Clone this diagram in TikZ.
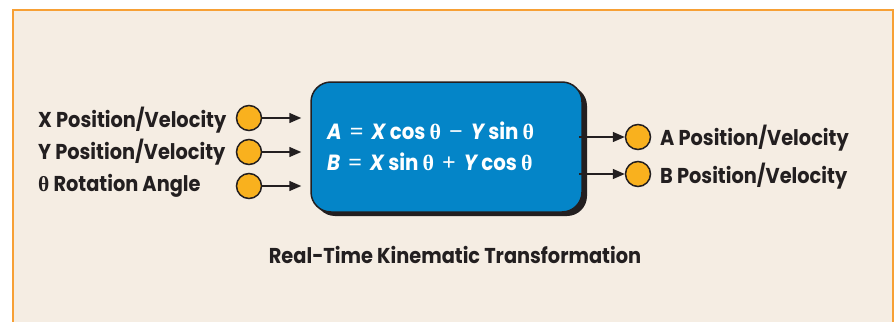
\documentclass[tikz,border=0pt]{standalone}
\usepackage{fontspec}
\setmainfont{Poppins}[FakeStretch=0.9]
\newfontfamily\thfont{Liberation Serif}
\usetikzlibrary{arrows.meta}
\definecolor{cream}{HTML}{F5EDE3}
\definecolor{frame}{HTML}{F7A035}
\definecolor{boxblue}{HTML}{0485C8}
\definecolor{dot}{HTML}{F9B11E}
\definecolor{ink}{HTML}{231F20}
\newcommand{\tht}{{\thfont\bfseries θ}}
\newcommand{\op}[1]{\hspace{8pt}{\thfont\fontsize{24}{24}\selectfont #1}\hspace{8pt}}
\tikzset{
  lbl/.style={anchor=base west, inner sep=0pt, font=\bfseries\fontsize{21.5}{24}\selectfont, text=ink},
  dotnode/.style={circle, draw=ink, line width=1.5pt, fill=dot, minimum size=25pt, inner sep=0pt},
  arr/.style={draw=ink, line width=1.5pt, -{Triangle[length=12pt,width=10pt]}},
  eq/.style={anchor=base west, inner sep=0pt, text=white, font=\bfseries\fontsize{22}{24}\selectfont},
}
\begin{document}
\begin{tikzpicture}[x=1pt,y=-1pt]
\useasboundingbox (0,0) rectangle (896,321);
\fill[white] (0,0) rectangle (896,321);
\fill[cream] (13,10) rectangle (893,325);
\draw[frame, line width=2.5pt] (13,330) -- (13,10) -- (893,10) -- (893,330);
% shadow + box
\fill[ink, rounded corners=20pt] (315,86) rectangle (587,216);
\node[draw=ink, line width=1.5pt, fill=boxblue, rounded corners=20pt, minimum width=271pt, minimum height=130pt, inner sep=0pt] (box) at (446.5,147) {};
\node[eq] (eqa) at (327,139) {\itshape A\upshape\op{=}\itshape X\upshape\ cos \tht\op{−}\itshape Y\upshape\ sin \tht};
\node[eq] (eqb) at (327,170) {\itshape B\upshape\op{=}\itshape X\upshape\ sin \tht\op{+}\itshape Y\upshape\ cos \tht};
% left
\node[dotnode] (cx) at (249,118) {};
\node[dotnode] (cy) at (249,152) {};
\node[dotnode] (ct) at (249,186) {};
\node[lbl] (lx) at (38,127) {X Position/Velocity};
\node[lbl] (ly) at (38,159) {Y Position/Velocity};
\node[lbl] (lt) at (38,191) {\tht\ Rotation Angle};
\draw[arr, shorten >=9pt] (cx.east) -- (cx.east -| box.west);
\draw[arr, shorten >=9pt] (cy.east) -- (cy.east -| box.west);
\draw[arr, shorten >=9pt] (ct.east) -- (ct.east -| box.west);
% right
\node[dotnode] (ca) at (638,137) {};
\node[dotnode] (cb) at (638,174) {};
\node[lbl] (la) at (660,145) {A Position/Velocity};
\node[lbl] (lb) at (660,183) {B Position/Velocity};
\draw[arr, shorten <=-4pt] (box.east |- ca) -- (ca.west);
\draw[arr, shorten <=-4pt] (box.east |- cb) -- (cb.west);
% caption
\node[lbl, anchor=base] (cap) at (455,263) {Real-Time Kinematic Transformation};
\end{tikzpicture}
\end{document}
